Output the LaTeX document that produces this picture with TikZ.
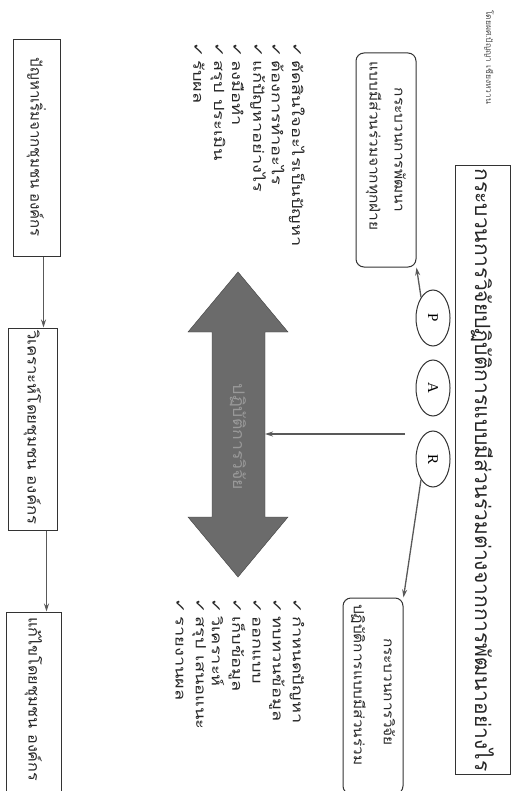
\documentclass[tikz,border=0pt]{standalone}
\usepackage{fontspec}
\setmainfont{Liberation Serif}
\newfontfamily\thai[Script=Thai]{Loma}
\newfontfamily\sym{DejaVu Sans}
\usetikzlibrary{shapes.geometric,arrows.meta}
\newcommand{\stretchx}[2]{\scalebox{#1}[1]{#2}}
\begin{document}
\begin{tikzpicture}[x=1pt,y=-1pt,
  box/.style={draw=black!80, line width=1pt, rotate=-90, font=\thai, text=black!85},
  lbox/.style={box, align=left, inner sep=0pt},
  item/.style={rotate=-90, anchor=west, inner sep=0pt, text=black!85, font=\thai\fontsize{14}{16}\selectfont},
  conn/.style={draw=black!65, line width=1.3pt, -{Stealth[length=8pt,width=5pt]}},
  pe/.style={ellipse, draw=black!80, line width=1pt, minimum width=34pt, minimum height=56pt, inner sep=0pt, font=\fontsize{15}{17}\selectfont}
]
\useasboundingbox[fill=white] (0,0) rectangle (522,791);

% title
\node[box, minimum width=590pt, minimum height=55pt, font=\thai\fontsize{21}{24}\selectfont] (title) at (482.5,470) {กระบวนการวิจัยปฏิบัติการแบบมีส่วนร่วมต่างจากการพัฒนาอย่างไร};
\node[rotate=-90, anchor=west, inner sep=1pt, text=black!70, font=\thai\fontsize{8.5}{10}\selectfont] (author) at (489,9) {โดยผศ.ปัญญา เชียงหวาน};

% P / R boxes
\node[box, rounded corners=8pt, minimum width=214pt, minimum height=60pt, text width=196pt, align=left, font=\thai\fontsize{14}{25}\selectfont] (pbox) at (386,160) {\hspace*{26pt}\stretchx{1.1}{กระบวนการพัฒนา}\\\stretchx{1.1}{แบบมีส่วนร่วมจากทุกฝ่าย}};
\node[box, rounded corners=8pt, minimum width=196pt, minimum height=60pt, text width=184pt, align=left, font=\thai\fontsize{14}{30}\selectfont] (rbox) at (373,696) {\hspace*{34pt}\stretchx{1.1}{กระบวนการวิจัย}\\\stretchx{1.1}{ปฏิบัติการแบบมีส่วนร่วม}};

% ellipses
\node[pe] (P) at (433,318) {\rotatebox{-90}{P}};
\node[pe] (A) at (433,388) {\rotatebox{-90}{A}};
\node[pe] (R) at (433,459) {\rotatebox{-90}{R}};

% big double arrow
\fill[black!58, draw=black!75] (238,272) -- (288,332) -- (265,332) -- (265,517) -- (288,517) -- (238,577) -- (188,517) -- (212,517) -- (212,332) -- (188,332) -- cycle;
\node[rotate=-90, text=black!40, font=\thai\fontsize{16}{18}\selectfont] (bigtext) at (238,437) {\stretchx{1.1}{ปฏิบัติการวิจัย}};
\coordinate (bigedge) at (265,434);
\coordinate (astart) at (405,434);

% connectors from PAR
\draw[conn] (P.120) -- (pbox.north east);
\draw[conn] (R.240) -- (rbox.north west);
\draw[conn] (astart) -- (bigedge);

% lists
\node[item] (p1) at (297,42) {\stretchx{1.3}{{\sym ✓}\,ตัดสินใจอะไรเป็นปัญหา}};
\node[item] (p2) at (278,42) {\stretchx{1.3}{{\sym ✓}\,ต้องการทำอะไร}};
\node[item] (p3) at (258,42) {\stretchx{1.3}{{\sym ✓}\,แก้ปัญหาอย่างไร}};
\node[item] (p4) at (238,42) {\stretchx{1.3}{{\sym ✓}\,ลงมือทำ}};
\node[item] (p5) at (218,42) {\stretchx{1.3}{{\sym ✓}\,สรุป ประเมิน}};
\node[item] (p6) at (199,42) {\stretchx{1.3}{{\sym ✓}\,รับผล}};

\node[item] (r1) at (297,598) {\stretchx{1.3}{{\sym ✓}\,กำหนดปัญหา}};
\node[item] (r2) at (277,598) {\stretchx{1.3}{{\sym ✓}\,ทบทวนข้อมูล}};
\node[item] (r3) at (257,598) {\stretchx{1.3}{{\sym ✓}\,ออกแบบ}};
\node[item] (r4) at (237,598) {\stretchx{1.3}{{\sym ✓}\,เก็บข้อมูล}};
\node[item] (r5) at (218,598) {\stretchx{1.3}{{\sym ✓}\,วิเคราะห์}};
\node[item] (r6) at (199,598) {\stretchx{1.3}{{\sym ✓}\,สรุป เสนอแนะ}};
\node[item] (r7) at (180,598) {\stretchx{1.3}{{\sym ✓}\,รายงานผล}};

% left boxes
\node[lbox, minimum width=217pt, minimum height=47pt, text width=205pt, font=\thai\fontsize{15}{17}\selectfont] (b1) at (36.5,148.5) {\hspace*{12pt}ปัญหาเริ่มจากชุมชน องค์กร};
\node[lbox, minimum width=202pt, minimum height=49pt, text width=198pt, font=\thai\fontsize{15}{17}\selectfont] (b2) at (32.5,429) {\stretchx{1.12}{วิเคราะห์โดยชุมชน องค์กร}};
\node[lbox, minimum width=182pt, minimum height=55pt, text width=172pt, font=\thai\fontsize{15}{17}\selectfont] (b3) at (33.5,703) {\stretchx{1.08}{แก้ไขโดยชุมชน องค์กร}};

\draw[conn] ([xshift=7pt]b1.east) -- ([xshift=7pt]b1.east |- b2.west);
\draw[conn] ([xshift=14pt]b2.east) -- ([xshift=14pt]b2.east |- b3.west);
\end{tikzpicture}
\end{document}
